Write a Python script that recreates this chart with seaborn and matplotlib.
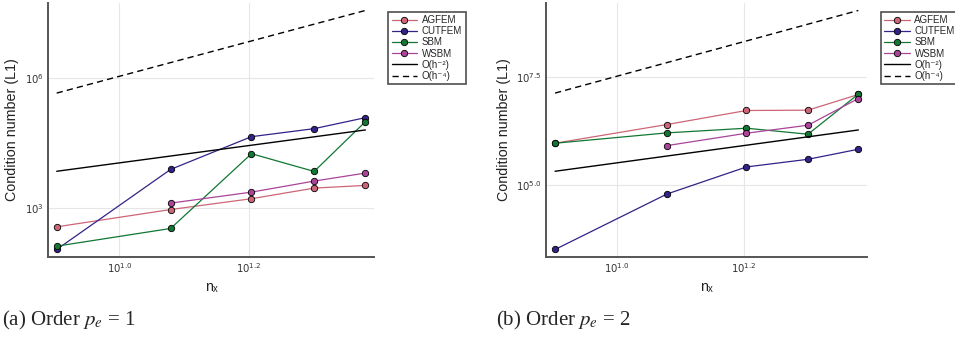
import matplotlib
matplotlib.use("Agg")
import matplotlib.pyplot as plt
import numpy as np
import pandas as pd
import seaborn as sns

# mesh sizes
nx = [8, 12, 16, 20, 24]
methods = ["AGFEM", "CUTFEM", "SBM", "WSBM"]
colors = {"AGFEM": "#CC6677", "CUTFEM": "#332288", "SBM": "#117733", "WSBM": "#AA4499"}

# order p_e = 1 (WSBM has no value at nx=8)
agfem_1 = [363, 912, 1622, 2851, 3289]
cutfem_1 = [109, 7709, 43950, 67300, 120800]
sbm_1 = [130, 333, 17740, 6918, 97720]
wsbm_1 = [np.nan, 1282, 2301, 4140, 6339]
ref2_1 = [6976, 15700, 27900, 43600, 62800]
ref4_1 = [446500, 2260000, 7144000, 17440000, 36160000]

# order p_e = 2
agfem_2 = [922600, 2495000, 5260000, 5350000, 12330000]
cutfem_2 = [3243, 61940, 261200, 392600, 669900]
sbm_2 = [922600, 1600000, 2050000, 1490000, 12560000]
wsbm_2 = [np.nan, 812800, 1570000, 2404000, 9950000]
ref2_2 = [207600, 467000, 830000, 1297000, 1868000]
ref4_2 = [13280000, 67250000, 212500000, 518900000, 1076000000]

panels = [
    (dict(zip(methods, [agfem_1, cutfem_1, sbm_1, wsbm_1])), ref2_1, ref4_1,
     [1e3, 1e6], [r"$10^{3}$", r"$10^{6}$"], r"(a) Order $p_e$ = 1"),
    (dict(zip(methods, [agfem_2, cutfem_2, sbm_2, wsbm_2])), ref2_2, ref4_2,
     [10**5.0, 10**7.5], [r"$10^{5.0}$", r"$10^{7.5}$"], r"(b) Order $p_e$ = 2"),
]

sns.set_style("whitegrid", {"grid.color": "#e6e6e6", "axes.edgecolor": "#555555"})
plt.rcParams["font.family"] = ["Liberation Sans", "DejaVu Sans"]
plt.rcParams["mathtext.fontset"] = "dejavusans"

fig = plt.figure(figsize=(9.55, 3.38), dpi=100)
axes = [fig.add_axes([0.050, 0.240, 0.342, 0.751]),
        fig.add_axes([0.572, 0.240, 0.336, 0.751])]

for ax, (series, ref2, ref4, yt, ytl, cap) in zip(axes, panels):
    rows = []
    for m in methods:
        for n, v in zip(nx, series[m]):
            if not np.isnan(v):
                rows.append({"nx": n, "value": v, "method": m})
    df = pd.DataFrame(rows)
    for m in methods:
        sns.lineplot(data=df[df["method"] == m], x="nx", y="value", ax=ax,
                     color=colors[m], marker="o", markersize=4.6,
                     markeredgecolor="black", markeredgewidth=0.6,
                     linewidth=0.9, label=m)
    sns.lineplot(x=nx, y=ref2, ax=ax, color="black", linewidth=1.0,
                 label="O(h⁻²)")
    sns.lineplot(x=nx, y=ref4, ax=ax, color="black", linewidth=1.0,
                 dashes=False, label="O(h⁻⁴)")
    ax.get_lines()[-1].set_dashes((4.5, 3))
    ax.set_xscale("log")
    ax.set_yscale("log")

    # ~3% margins in log space, like the reference
    allv = np.concatenate([np.array(series[m], float) for m in methods] + [ref2, ref4])
    lo, hi = np.log10(np.nanmin(allv)), np.log10(np.nanmax(allv))
    pad = 0.031 * (hi - lo)
    ax.set_ylim(10**(lo - pad), 10**(hi + pad))
    xl, xh = np.log10(nx[0]), np.log10(nx[-1])
    xpad = 0.029 * (xh - xl)
    ax.set_xlim(10**(xl - xpad), 10**(xh + xpad))

    ax.set_xticks([10**1.0, 10**1.2])
    ax.set_xticklabels([r"$10^{1.0}$", r"$10^{1.2}$"])
    ax.set_yticks(yt)
    ax.set_yticklabels(ytl)
    ax.xaxis.set_minor_locator(matplotlib.ticker.NullLocator())
    ax.yaxis.set_minor_locator(matplotlib.ticker.NullLocator())
    ax.tick_params(labelsize=7.3, length=0, pad=3, colors="#333333")
    ax.set_xlabel("nₓ", fontsize=10.3, color="#222222")
    ax.set_ylabel("Condition number (L1)", fontsize=10.3, color="#222222")
    for s in ["top", "right"]:
        ax.spines[s].set_visible(False)
    for s in ["left", "bottom"]:
        ax.spines[s].set_linewidth(1.4)
        ax.spines[s].set_color("#555555")

    leg = ax.legend(loc="upper left", bbox_to_anchor=(1.043, 0.966), fontsize=7,
                    frameon=True, fancybox=False, borderpad=0.35, borderaxespad=0,
                    labelspacing=0.12, handlelength=2.6, handletextpad=0.5)
    leg.get_frame().set_edgecolor("#222222")
    leg.get_frame().set_linewidth(1.2)
    leg.get_lines()[-1].set_dashes((4.5, 3))

fig.text(0.002, 0.038, panels[0][5], fontsize=15, family="Liberation Serif",
         math_fontfamily="stix")
fig.text(0.519, 0.038, panels[1][5], fontsize=15, family="Liberation Serif",
         math_fontfamily="stix")

fig.savefig("out.png", dpi=100)
